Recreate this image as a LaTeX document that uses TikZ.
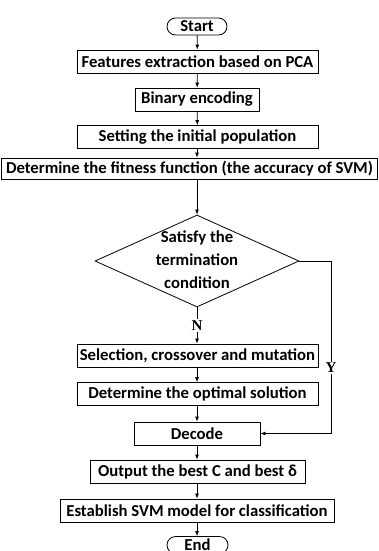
\documentclass[tikz,border=0pt]{standalone}
\usepackage{fontspec}
\setmainfont{Carlito}
\newfontfamily\lblfont{Liberation Serif}
\usetikzlibrary{shapes.geometric,shapes.misc,arrows.meta}
\tikzset{
  box/.style={draw, line width=0.8pt, rectangle, minimum height=23pt, inner sep=0pt, font=\fontsize{16.7pt}{19pt}\selectfont\bfseries},
  term/.style={draw, line width=0.8pt, rounded rectangle, minimum height=17pt, inner sep=0pt, font=\fontsize{16.7pt}{19pt}\selectfont\bfseries},
  flow/.style={draw, line width=0.8pt, -{Latex[length=5pt,width=4pt]}},
  lbl/.style={fill=white, inner sep=1.5pt, font=\fontsize{15pt}{17pt}\selectfont\lblfont\bfseries}
}
\begin{document}
\begin{tikzpicture}[x=1pt,y=-1pt]
\path[use as bounding box] (0,0) rectangle (379,551);
\begin{scope}
\clip (0,0) rectangle (379,551);
\node[term, minimum width=60pt] (start) at (197,26.5) {Start};
\node[box, minimum width=241pt] (b1) at (197.5,61.5) {Features extraction based on PCA};
\node[box, minimum width=124pt] (b2) at (197,99.5) {Binary encoding};
\node[box, minimum width=241pt] (b3) at (197.5,137) {Setting the initial population};
\node[box, minimum width=376pt, minimum height=21pt] (b4) at (189.5,168.5) {Determine the fitness function (the accuracy of SVM)};
\node[draw, line width=0.8pt, diamond, minimum width=204pt, minimum height=92pt, inner sep=0pt] (dia) at (197,261) {};
\node[align=center, font=\fontsize{16.7pt}{23pt}\selectfont\bfseries] (diatext) at (197,260) {Satisfy the\\termination\\condition};
\node[box, minimum width=241pt] (b5) at (197.5,355.5) {Selection, crossover and mutation};
\node[box, minimum width=241pt] (b6) at (197.5,394) {Determine the optimal solution};
\node[box, minimum width=126pt] (b7) at (197,433.5) {Decode};
\node[box, minimum width=215pt] (b8) at (197.5,471.5) {Output the best C and best δ};
\node[box, minimum width=274pt] (b9) at (197,510.5) {Establish SVM model for classification};
\node[term, minimum width=61pt] (end) at (197.5,545) {End};
\coordinate (yc1) at (331,261);
\coordinate (yc2) at (331,433.5);
\draw[flow] (start) -- (b1);
\draw[flow] (b1) -- (b2);
\draw[flow] (b2) -- (b3);
\draw[flow] (b3.south -| b2.south) -- (b2.south |- b4.north);
\draw[flow] (b4.south -| dia.north) -- (dia.north);
\draw[flow] (dia.south) -- node[lbl, pos=0.5] (nlbl) {N} (b5.north -| dia.south);
\draw[flow] (b5.south -| b2.south) -- (b2.south |- b6.north);
\draw[flow] (b6.south -| b2.south) -- (b7.north);
\draw[flow] (dia.east) -- (yc1) -- node[lbl, pos=0.62] (ylbl) {Y} (yc2) -- (b7.east);
\draw[flow] (b7.south -| b2.south) -- (b2.south |- b8.north);
\draw[flow] (b8.south -| b2.south) -- (b2.south |- b9.north);
\draw[flow] (b9.south -| b2.south) -- (b2.south |- end.north);
\end{scope}
\end{tikzpicture}
\end{document}
